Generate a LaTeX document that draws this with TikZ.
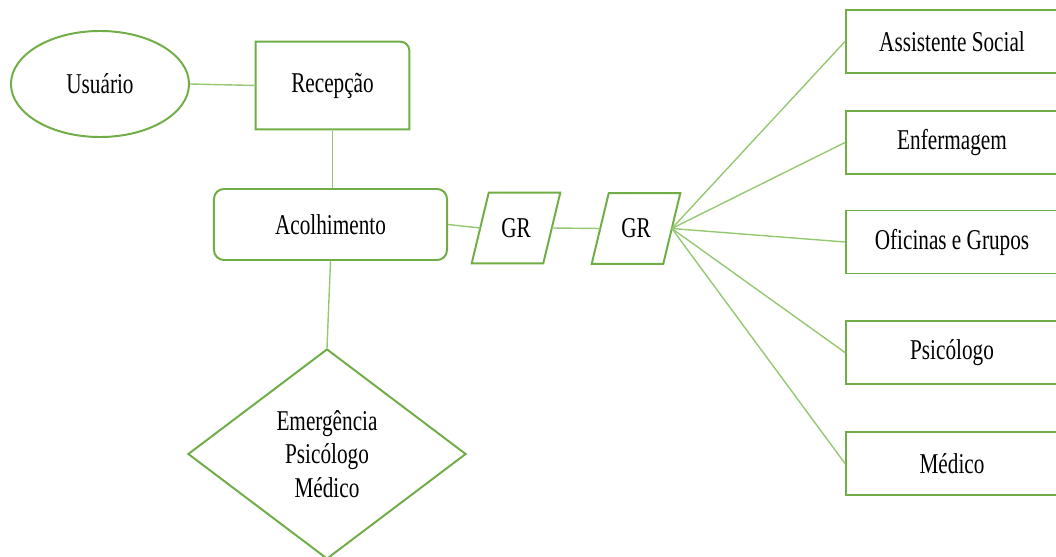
\documentclass[tikz,border=0pt]{standalone}
\usepackage{fontspec}
\setmainfont[FakeStretch=0.74]{Liberation Serif}
\usetikzlibrary{calc,shapes.geometric}
\definecolor{boxgreen}{RGB}{112,173,71}
\definecolor{linegreen}{RGB}{150,200,115}
\tikzset{
	shapeline/.style={draw=boxgreen, line width=1.4pt},
	linkline/.style={draw=linegreen, line width=1pt},
	lbl/.style={font=\fontsize{20.4}{23.8}\selectfont, text=black, inner sep=0pt},
	unitbox/.style={lbl, shapeline, minimum width=5.3cm, minimum height=1.575cm},
}

\begin{document}
\begin{tikzpicture}[x=0.025cm, y=-0.025cm]
			%%%%% START %%%%%
			\useasboundingbox (0, 0) rectangle (1056, 557);
			
			\node[lbl, shapeline, ellipse, minimum width=4.45cm, minimum height=2.65cm] (usuario) at (100, 84) {Usuário};
			
			\node[lbl, minimum width=3.825cm, minimum height=2.175cm] (recepcao) at (332.5, 85.5) {Recepção};
			\draw[shapeline] (recepcao.south west) -- (recepcao.north west) -- ([xshift=-0.22cm]recepcao.north east) arc[start angle=90, end angle=0, radius=0.22cm] -- (recepcao.south east) -- cycle;
			
			\node[lbl, shapeline, rounded corners=0.25cm, minimum width=5.825cm, minimum height=1.775cm] (acolhimento) at (330.5, 224.5) {Acolhimento};
			
			\node[lbl, shapeline, diamond, aspect=1.32, minimum width=6.95cm, minimum height=5.25cm, align=center] (emergencia) at (327, 454) {Emergência\\Psicólogo\\Médico};
			
			\node[lbl, minimum width=1.775cm, minimum height=1.75cm] (gr1) at (516, 228) {GR};
			\draw[shapeline] ($(gr1.north west)+(8.5,0)$) -- ($(gr1.north east)+(8.5,0)$) -- ($(gr1.south east)+(-8.5,0)$) -- ($(gr1.south west)+(-8.5,0)$) -- cycle;
			
			\node[lbl, minimum width=1.775cm, minimum height=1.75cm] (gr2) at (636, 228.5) {GR};
			\draw[shapeline] ($(gr2.north west)+(8.5,0)$) -- ($(gr2.north east)+(8.5,0)$) -- ($(gr2.south east)+(-8.5,0)$) -- ($(gr2.south west)+(-8.5,0)$) -- cycle;
			
			\node[unitbox] (social) at (952, 41.5) {Assistente Social};
			\node[unitbox] (enfermagem) at (952, 142.5) {Enfermagem};
			\node[unitbox] (oficinas) at (952, 242) {Oficinas e Grupos};
			\node[unitbox] (psicologo) at (952, 352.5) {Psicólogo};
			\node[unitbox] (medico) at (952, 463.5) {Médico};
			
			
			\draw[linkline] (usuario.east) -- (recepcao.west);
			\draw[linkline] (recepcao.south) -- (recepcao.south |- acolhimento.north);
			\draw[linkline] (acolhimento.south) -- (emergencia.north);
			\draw[linkline] (acolhimento.east) -- (gr1.west);
			\draw[linkline] (gr1.east) -- (gr2.west);
			\foreach \dest in {social, enfermagem, oficinas, psicologo, medico}
				\draw[linkline] (gr2.east) -- (\dest.west);
			
			%%%%% END %%%%%
\end{tikzpicture}
\end{document}
